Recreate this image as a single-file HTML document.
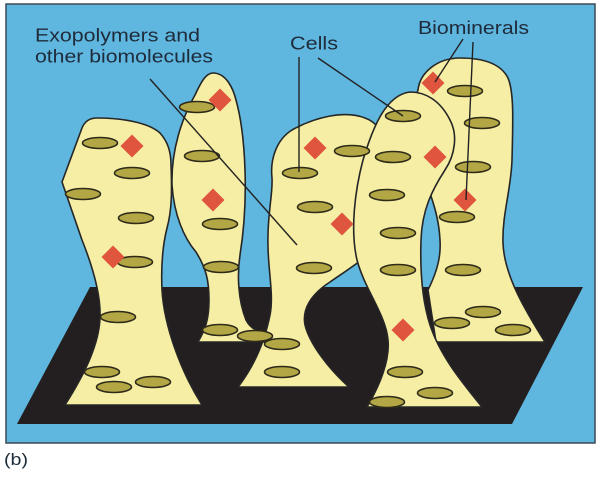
<!DOCTYPE html>
<html>
<head>
<meta charset="utf-8">
<style>
  html, body { margin:0; padding:0; background:#ffffff; }
  svg { display:block; }
  text { font-family: "Liberation Sans", Arial, sans-serif; fill:#1e2b3a; }
</style>
</head>
<body>
<svg width="603" height="480" viewBox="0 0 603 480" xmlns="http://www.w3.org/2000/svg">
  <rect x="0" y="0" width="603" height="480" fill="#ffffff"/>
  <!-- blue background panel -->
  <rect x="6" y="4" width="589" height="439" fill="#5fb6df" stroke="#3c4a55" stroke-width="1.5"/>
  <!-- black substrate -->
  <polygon points="90,287 583,287 512,424 17,424" fill="#231f20"/>

  <g fill="#f6eea4" stroke="#262626" stroke-width="1.6" stroke-linejoin="round">
    <!-- Pillar 5 (rightmost, behind) -->
    <path d="M 418,90 C 420,72 438,58 460,58 C 480,58 500,62 508,78 C 514,92 513,120 512,160 C 511,190 502,215 503,243 C 504,275 525,310 545,342 L 436,342 L 428,290 C 438,270 441,255 440,240 C 439,220 434,205 430,193 L 405,130 Z"/>
    <!-- Pillar 3 (middle) -->
    <path d="M 272,178 C 270,160 276,140 292,130 C 315,117 345,110 365,118 C 385,125 390,150 388,180 L 380,240 C 372,255 350,268 330,282 C 310,295 302,310 305,325 C 310,345 330,370 349,387 L 238,387 C 255,365 265,340 270,315 C 274,295 268,270 268,245 C 267,215 273,195 272,178 Z"/>
    <!-- Pillar 4 -->
    <path d="M 410,92 C 425,92 440,100 450,120 C 458,135 455,155 445,170 C 432,190 422,210 421,240 C 420,270 422,300 430,325 C 440,355 460,380 482,407 L 367,407 C 380,385 390,360 388,340 C 386,315 365,290 357,260 C 350,230 355,190 363,160 C 372,130 385,95 410,92 Z"/>
    <!-- Pillar 1 (leftmost) -->
    <path d="M 97,118 C 120,118 148,122 160,133 C 168,142 171,152 171,165 C 172,190 172,210 167,228 C 162,248 161,268 162,290 C 164,325 180,370 202,405 L 65,405 C 84,375 99,345 100,318 C 101,295 92,265 82,240 L 62,182 L 82,128 Q 86,118 97,118 Z"/>
    <!-- Pillar 2 (tall narrow) -->
    <path d="M 213,73 C 226,73 233,88 236,100 C 241,118 244,140 245,170 C 246,200 244,230 240,255 C 237,275 238,300 246,320 C 250,328 258,332 266,334 L 268,342 L 198,342 C 205,330 209,320 209,300 C 209,280 206,268 196,252 C 184,238 174,215 172,185 C 171,150 182,118 195,95 C 201,82 206,73 213,73 Z"/>
  </g>

  <!-- cells -->
  <g fill="#b3a645" stroke="#2d2a1a" stroke-width="1.6">
    <ellipse cx="100" cy="143" rx="17.5" ry="5.5"/>
    <ellipse cx="132" cy="173" rx="17.5" ry="5.5"/>
    <ellipse cx="83" cy="194" rx="17.5" ry="5.5"/>
    <ellipse cx="136" cy="218" rx="17.5" ry="5.5"/>
    <ellipse cx="135" cy="262" rx="17.5" ry="5.5"/>
    <ellipse cx="118" cy="317" rx="17.5" ry="5.5"/>
    <ellipse cx="102" cy="372" rx="17.5" ry="5.5"/>
    <ellipse cx="114" cy="387" rx="17.5" ry="5.5"/>
    <ellipse cx="153" cy="382" rx="17.5" ry="5.5"/>

    <ellipse cx="197" cy="107" rx="17.5" ry="5.5"/>
    <ellipse cx="202" cy="156" rx="17.5" ry="5.5"/>
    <ellipse cx="220" cy="224" rx="17.5" ry="5.5"/>
    <ellipse cx="221" cy="267" rx="17.5" ry="5.5"/>
    <ellipse cx="220" cy="330" rx="17.5" ry="5.5"/>
    <ellipse cx="255" cy="336" rx="17.5" ry="5.5"/>

    <ellipse cx="282" cy="344" rx="17.5" ry="5.5"/>
    <ellipse cx="282" cy="372" rx="17.5" ry="5.5"/>
    <ellipse cx="300" cy="173" rx="17.5" ry="5.5"/>
    <ellipse cx="315" cy="207" rx="17.5" ry="5.5"/>
    <ellipse cx="314" cy="268" rx="17.5" ry="5.5"/>
    <ellipse cx="352" cy="151" rx="17.5" ry="5.5"/>

    <ellipse cx="403" cy="116" rx="17.5" ry="5.5"/>
    <ellipse cx="393" cy="157" rx="17.5" ry="5.5"/>
    <ellipse cx="387" cy="195" rx="17.5" ry="5.5"/>
    <ellipse cx="398" cy="233" rx="17.5" ry="5.5"/>
    <ellipse cx="398" cy="270" rx="17.5" ry="5.5"/>
    <ellipse cx="405" cy="372" rx="17.5" ry="5.5"/>
    <ellipse cx="435" cy="393" rx="17.5" ry="5.5"/>
    <ellipse cx="387" cy="402" rx="17.5" ry="5.5"/>

    <ellipse cx="465" cy="91" rx="17.5" ry="5.5"/>
    <ellipse cx="482" cy="123" rx="17.5" ry="5.5"/>
    <ellipse cx="473" cy="167" rx="17.5" ry="5.5"/>
    <ellipse cx="457" cy="217" rx="17.5" ry="5.5"/>
    <ellipse cx="463" cy="270" rx="17.5" ry="5.5"/>
    <ellipse cx="483" cy="312" rx="17.5" ry="5.5"/>
    <ellipse cx="452" cy="323" rx="17.5" ry="5.5"/>
    <ellipse cx="513" cy="330" rx="17.5" ry="5.5"/>
  </g>

  <!-- biominerals (diamonds) -->
  <g fill="#e0553e">
    <polygon points="132,134.5 143.5,146 132,157.5 120.5,146"/>
    <polygon points="113,245.5 124.5,257 113,268.5 101.5,257"/>
    <polygon points="220,88.5 231.5,100 220,111.5 208.5,100"/>
    <polygon points="213,188.5 224.5,200 213,211.5 201.5,200"/>
    <polygon points="315,136.5 326.5,148 315,159.5 303.5,148"/>
    <polygon points="342,212.5 353.5,224 342,235.5 330.5,224"/>
    <polygon points="435,145.5 446.5,157 435,168.5 423.5,157"/>
    <polygon points="403,318.5 414.5,330 403,341.5 391.5,330"/>
    <polygon points="433,71.5 444.5,83 433,94.5 421.5,83"/>
    <polygon points="465,188.5 476.5,200 465,211.5 453.5,200"/>
  </g>

  <!-- leader lines -->
  <g stroke="#222222" stroke-width="1.4" fill="none">
    <line x1="150" y1="79" x2="297" y2="245"/>
    <line x1="299" y1="57" x2="299" y2="172"/>
    <line x1="318" y1="58" x2="403" y2="116"/>
    <line x1="463" y1="39" x2="435" y2="82"/>
    <line x1="473" y1="42" x2="466" y2="200"/>
  </g>

  <!-- labels -->
  <text x="35" y="41.5" font-size="18" textLength="165" lengthAdjust="spacingAndGlyphs">Exopolymers and</text>
  <text x="35" y="62.5" font-size="18" textLength="178" lengthAdjust="spacingAndGlyphs">other biomolecules</text>
  <text x="290" y="49.5" font-size="18" textLength="48" lengthAdjust="spacingAndGlyphs">Cells</text>
  <text x="418" y="34" font-size="18" textLength="111" lengthAdjust="spacingAndGlyphs">Biominerals</text>
  <text x="4" y="465" font-size="17" textLength="24" lengthAdjust="spacingAndGlyphs">(b)</text>
</svg>
</body>
</html>
